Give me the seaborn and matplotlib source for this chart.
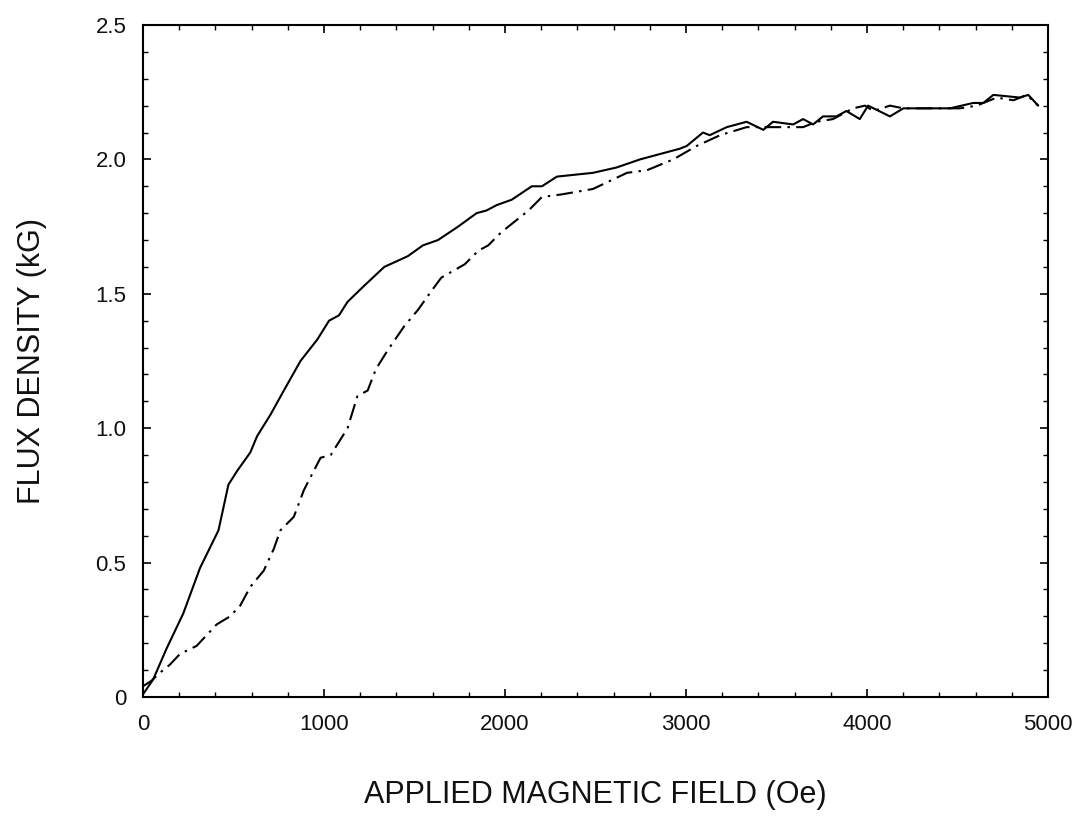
import matplotlib
matplotlib.use("Agg")
import matplotlib.pyplot as plt
from matplotlib.ticker import MultipleLocator, FixedLocator
from matplotlib import font_manager
import seaborn as sns
import pandas as pd

# ---- data ----
field_solid = [0, 56, 130, 222, 315, 417, 472, 519, 593, 630, 704, 778, 870, 963, 1028,
               1083, 1130, 1222, 1333, 1463, 1546, 1630, 1741, 1843, 1898, 1954, 2037,
               2148, 2204, 2287, 2486, 2617, 2746, 2967, 3004, 3094, 3131, 3225, 3335,
               3427, 3481, 3592, 3647, 3702, 3757, 3831, 3886, 3960, 4006, 4127, 4201,
               4311, 4459, 4587, 4643, 4698, 4845, 4891, 4946]
flux_solid = [0.01, 0.065, 0.18, 0.31, 0.48, 0.62, 0.79, 0.84, 0.91, 0.97, 1.05, 1.14, 1.25,
              1.33, 1.40, 1.42, 1.47, 1.53, 1.60, 1.64, 1.68, 1.70, 1.75, 1.80, 1.81, 1.83,
              1.85, 1.90, 1.90, 1.936, 1.95, 1.97, 2.00, 2.04, 2.05, 2.10, 2.09, 2.12, 2.14,
              2.11, 2.14, 2.13, 2.15, 2.13, 2.16, 2.16, 2.18, 2.15, 2.20, 2.16, 2.19, 2.19,
              2.19, 2.21, 2.21, 2.24, 2.23, 2.24, 2.20]

field_dash = [0, 46, 93, 148, 204, 296, 407, 481, 537, 593, 667, 722, 759, 833, 889, 981,
              1037, 1130, 1185, 1241, 1287, 1352, 1444, 1519, 1593, 1648, 1778, 1852, 1907,
              1981, 2056, 2130, 2204, 2315, 2486, 2674, 2785, 2930, 3059, 3188, 3335, 3481,
              3647, 3721, 3812, 3923, 3989, 4034, 4127, 4201, 4274, 4403, 4514, 4606, 4717,
              4809, 4883, 4946]
flux_dash = [0.04, 0.06, 0.09, 0.12, 0.16, 0.19, 0.27, 0.30, 0.34, 0.41, 0.47, 0.55, 0.62,
             0.67, 0.77, 0.89, 0.90, 1.00, 1.12, 1.14, 1.22, 1.29, 1.38, 1.44, 1.51, 1.56,
             1.61, 1.66, 1.68, 1.73, 1.77, 1.81, 1.86, 1.87, 1.89, 1.95, 1.96, 2.00, 2.05,
             2.09, 2.12, 2.12, 2.12, 2.14, 2.15, 2.19, 2.20, 2.18, 2.20, 2.19, 2.19, 2.19,
             2.19, 2.20, 2.23, 2.22, 2.24, 2.20]

x_ticks = [0, 1000, 2000, 3000, 4000, 5000]
x_tick_labels = ["0", "1000", "2000", "3000", "4000", "5000"]
y_ticks = [0, 0.5, 1.0, 1.5, 2.0, 2.5]
y_tick_labels = ["0", "0.5", "1.0", "1.5", "2.0", "2.5"]
x_label = "APPLIED MAGNETIC FIELD (Oe)"
y_label = "FLUX DENSITY (kG)"

# ---- styling ----
sns.set_theme(style="ticks")
plt.rcParams['font.family'] = ['Liberation Sans', 'DejaVu Sans']

available = {f.name for f in font_manager.fontManager.ttflist}
if 'Liberation Sans Narrow' in available:
    tick_family = ['Liberation Sans Narrow', 'DejaVu Sans']
    tick_size = 18
else:
    tick_family = ['Liberation Sans', 'DejaVu Sans']
    tick_size = 16

fig = plt.figure(figsize=(10.83, 8.18), dpi=100)
ax = fig.add_axes([143 / 1083, 1 - 697 / 818, (1048 - 143) / 1083, (697 - 25) / 818])

df_s = pd.DataFrame({"field": field_solid, "flux": flux_solid})
df_d = pd.DataFrame({"field": field_dash, "flux": flux_dash})

sns.lineplot(data=df_s, x="field", y="flux", ax=ax, color="black", linewidth=1.5,
             sort=False, estimator=None)
sns.lineplot(data=df_d, x="field", y="flux", ax=ax, color="black", linewidth=1.5,
             sort=False, estimator=None, linestyle=(0, (8, 3, 1.2, 3)))

ax.set_xlim(0, 5000)
ax.set_ylim(0, 2.5)
ax.xaxis.set_major_locator(FixedLocator(x_ticks))
ax.set_xticklabels(x_tick_labels, family=tick_family)
ax.yaxis.set_major_locator(FixedLocator(y_ticks))
ax.set_yticklabels(y_tick_labels, family=tick_family)
ax.xaxis.set_minor_locator(MultipleLocator(200))
ax.yaxis.set_minor_locator(MultipleLocator(0.1))

ax.tick_params(which="both", direction="in", top=True, right=True, color="black")
ax.tick_params(which="major", length=6, width=1.2, labelsize=tick_size, pad=12,
               labelcolor="#111111")
ax.tick_params(which="minor", length=3.5, width=1.0)

for sp in ax.spines.values():
    sp.set_linewidth(1.5)
    sp.set_color("black")

ax.set_xlabel(x_label, fontsize=22, labelpad=33, color="#111111")
ax.set_ylabel(y_label, fontsize=22, labelpad=35, color="#111111")

fig.savefig("out.png", dpi=100, facecolor="white")
